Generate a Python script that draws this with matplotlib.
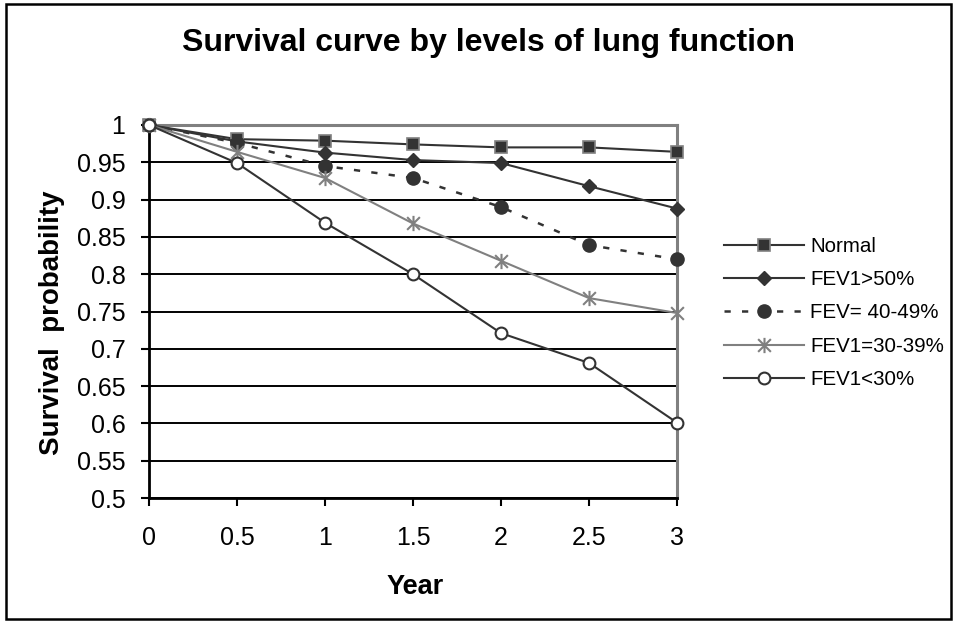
import numpy as np
import matplotlib
matplotlib.use("Agg")
import matplotlib.pyplot as plt
from matplotlib.path import Path
from matplotlib.patches import Rectangle
from matplotlib.ticker import FormatStrFormatter

plt.rcParams['font.family'] = ['Liberation Sans', 'DejaVu Sans']

years = [0, 0.5, 1, 1.5, 2, 2.5, 3]
normal = [1.0, 0.981, 0.979, 0.974, 0.970, 0.970, 0.964]
fev_gt50 = [1.0, 0.978, 0.963, 0.953, 0.949, 0.918, 0.888]
fev_40_49 = [1.0, 0.976, 0.945, 0.929, 0.890, 0.839, 0.820]
fev_30_39 = [1.0, 0.964, 0.929, 0.868, 0.818, 0.768, 0.748]
fev_lt30 = [1.0, 0.949, 0.869, 0.800, 0.721, 0.681, 0.601]

labels = ['Normal', 'FEV1>50%', 'FEV= 40-49%', 'FEV1=30-39%', 'FEV1<30%']
y_ticks = [0.5, 0.55, 0.6, 0.65, 0.7, 0.75, 0.8, 0.85, 0.9, 0.95, 1.0]

dark = '#333333'
grey = '#808080'

# asterisk like marker: X plus vertical bar
star = Path([(-0.5, -0.5), (0.5, 0.5), (-0.5, 0.5), (0.5, -0.5), (0, -0.6), (0, 0.6)],
            [Path.MOVETO, Path.LINETO, Path.MOVETO, Path.LINETO, Path.MOVETO, Path.LINETO])

W, H = 957, 622
fig = plt.figure(figsize=(W / 100, H / 100), dpi=100)
ax = fig.add_axes([149 / W, 1 - 498 / H, (677 - 149) / W, (498 - 125) / H])

ax.plot(years, normal, color=dark, lw=1.5, marker='s', ms=9,
        mfc=dark, mec=grey, mew=1.2, label=labels[0], zorder=3, clip_on=False)
ax.plot(years, fev_gt50, color=dark, lw=1.5, marker='D', ms=7.5,
        mfc=dark, mec=dark, label=labels[1], zorder=3, clip_on=False)
ax.plot(years, fev_40_49, color=dark, lw=1.8, ls=(0, (2.5, 4.5)), marker='o', ms=9.5,
        mfc=dark, mec=dark, label=labels[2], zorder=3, clip_on=False)
ax.plot(years, fev_30_39, color=grey, lw=1.5, marker=star, ms=11,
        mec=grey, mew=1.5, label=labels[3], zorder=3, clip_on=False)
ax.plot(years, fev_lt30, color=dark, lw=1.5, marker='o', ms=8.5,
        mfc='white', mec=dark, mew=1.5, label=labels[4], zorder=3, clip_on=False)

ax.set_xlim(0, 3)
ax.set_ylim(0.5, 1.0)
ax.set_xticks(years)
ax.set_yticks(y_ticks)
ax.xaxis.set_major_formatter(FormatStrFormatter('%g'))
ax.yaxis.set_major_formatter(FormatStrFormatter('%g'))
ax.tick_params(axis='both', direction='out', length=6, width=1.5, color='black',
               labelsize=18)
ax.tick_params(axis='x', pad=14)
ax.tick_params(axis='y', pad=11)

ax.grid(axis='y', color='black', lw=1.4)
ax.grid(axis='x', visible=False)
ax.set_axisbelow(True)

for side in ['left', 'bottom']:
    ax.spines[side].set_color('black')
    ax.spines[side].set_linewidth(2)
for side in ['top', 'right']:
    ax.spines[side].set_color(grey)
    ax.spines[side].set_linewidth(2.2)

fig.text(488 / W, 1 - 43 / H, 'Survival curve by levels of lung function',
         ha='center', va='center', fontsize=23, fontweight='bold')
fig.text(52 / W, 1 - 323 / H, 'Survival  probability', rotation=90,
         ha='center', va='center', fontsize=20, fontweight='bold')
fig.text(415 / W, 1 - 587 / H, 'Year', ha='center', va='center',
         fontsize=19.5, fontweight='bold')

leg = fig.legend(loc='center left', bbox_to_anchor=(724 / W, 1 - 313 / H),
                 frameon=False, fontsize=14.8, handlelength=3.9,
                 handletextpad=0.3, labelspacing=0.7, borderpad=0,
                 borderaxespad=0, numpoints=1)

fig.patches.append(Rectangle((6 / W, 3 / H), (951 - 6) / W, (618 - 3) / H,
                             transform=fig.transFigure, fill=False,
                             edgecolor='black', lw=1.8))

fig.savefig('out.png', dpi=100)
